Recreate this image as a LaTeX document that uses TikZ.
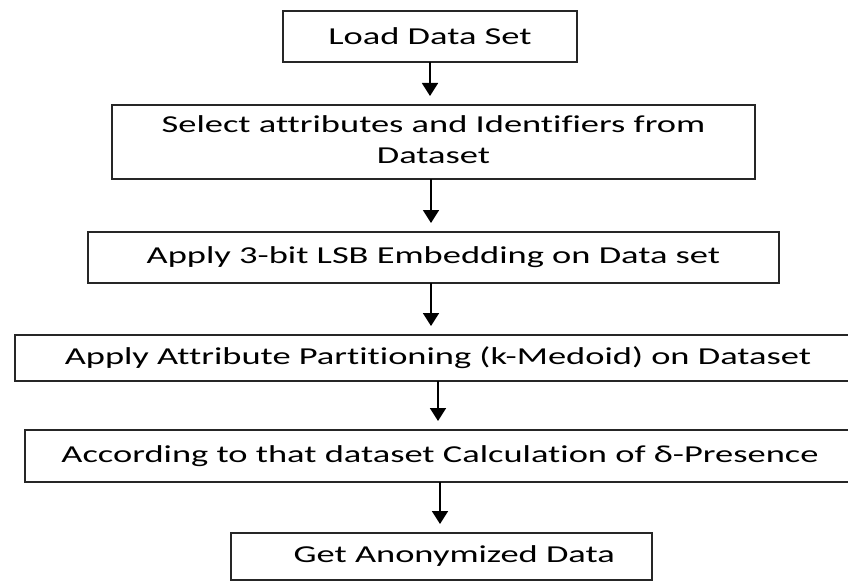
\documentclass[tikz,border=0pt]{standalone}
\usepackage{fontspec}
\usepackage{graphicx}
\setmainfont{Carlito}[Ligatures=NoCommon]
\usepackage{tikz}
\usetikzlibrary{arrows.meta,positioning}

% text in the boxes is set wide
\newcommand{\wtxt}[1]{\scalebox{1.5}[1]{#1}}

\begin{document}
\begin{tikzpicture}[
  font=\fontsize{24.3}{31}\selectfont,
  >={Triangle[length=13pt, width=16pt]},
  box/.style={draw=black!85, line width=2.4pt, inner sep=0pt, outer sep=0pt, align=center},
  arrow/.style={->, line width=1.8pt, shorten >=9pt}
]
  \path[use as bounding box, clip] (0,0) rectangle (848pt,-583pt);

  \node[box, minimum width=294pt, minimum height=51pt] (load) at (430pt,-36.5pt) {\wtxt{Load Data Set}};
  \node[box, minimum width=643pt, minimum height=74pt, below=43pt of load, xshift=3.5pt] (sel)
    {\wtxt{\begin{tabular}{@{}c@{}}Select attributes and Identifiers from\\Dataset\end{tabular}}};
  \node[box, minimum width=691pt, minimum height=51pt, below=53pt of sel] (lsb) {\wtxt{Apply 3-bit LSB Embedding on Data set}};
  \node[box, minimum width=846pt, minimum height=46pt, below=52pt of lsb, xshift=4.5pt] (part)
    {\wtxt{Apply Attribute Partitioning (k-Medoid) on Dataset}};
  \node[box, minimum width=830pt, minimum height=52pt, below=49pt of part, xshift=2pt] (pres)
    {\wtxt{According to that dataset Calculation of δ-Presence}};
  \node[box, minimum width=421pt, minimum height=47pt, below=51pt of pres, xshift=1.5pt] (anon)
    {\wtxt{\hspace{17pt}Get Anonymized Data}};

  \draw[arrow] (load.south) -- (load.south |- sel.north);
  \draw[arrow] (sel.south) ++(-2.5pt,0) coordinate (s2) -- (s2 |- lsb.north);
  \draw[arrow] (lsb.south) ++(-2.5pt,0) coordinate (s3) -- (s3 |- part.north);
  \draw[arrow] (part.south) -- (part.south |- pres.north);
  \draw[arrow] (pres.south) -- (pres.south |- anon.north);
\end{tikzpicture}
\end{document}
